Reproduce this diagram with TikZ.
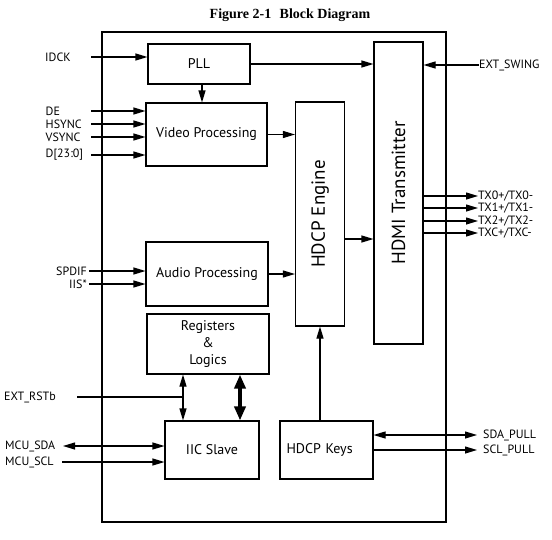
\documentclass[tikz,border=0pt]{standalone}
\usepackage{fontspec}
\setmainfont{PT Sans}
\newfontfamily\titlefont{Liberation Serif}
\usetikzlibrary{arrows.meta}
\tikzset{
    block/.style={draw,line width=1.1pt,inner sep=0pt,font=\fontsize{14}{17}\selectfont},
    tall/.style={block,font=\fontsize{19}{21}\selectfont},
    sig/.style={inner sep=0pt,font=\fontsize{12}{14}\selectfont},
    wire/.style={line width=1.1pt},
    arr/.style={wire,-{Triangle[length=12pt,width=7pt]}},
    darr/.style={wire,{Triangle[length=12pt,width=7pt]}-{Triangle[length=12pt,width=7pt]}},
    bus/.style={line width=4pt,{Triangle[length=14pt,width=11pt]}-{Triangle[length=14pt,width=11pt]}}
}
\begin{document}
\begin{tikzpicture}[x=1pt,y=-1pt]
    \useasboundingbox (0,0) rectangle (552,539);
    \node[font=\titlefont\bfseries\fontsize{14}{16}\selectfont] (title) at (290,15) {Figure 2-1\hspace{0.6em}Block Diagram};
    \draw[wire] (102,32) rectangle (446,522);

    \node[block,minimum width=102pt,minimum height=40pt] (pll) at (199,64) {PLL};
    \node[block,minimum width=121pt,minimum height=63pt] (vid) at (206.5,134.5) {Video Processing};
    \node[block,minimum width=122pt,minimum height=64pt] (aud) at (207,274) {Audio Processing};
    \node[block,minimum width=122pt,minimum height=60pt,align=center] (regs) at (208,344) {Registers\\\&\\Logics};
    \node[block,minimum width=94pt,minimum height=58pt] (iic) at (212,450) {IIC Slave};
    \node[block,minimum width=93pt,minimum height=58pt,text width=80pt,align=left] (keys) at (326.5,450) {HDCP Keys};
    \node[tall,minimum width=49pt,minimum height=224pt] (eng) at (320,214) {\rotatebox{90}{HDCP Engine}};
    \node[tall,minimum width=49pt,minimum height=302pt] (hdmi) at (398.5,193) {\rotatebox{90}{HDMI Transmitter}};

    \node[sig,anchor=west] (idck) at (45,57) {IDCK};
    \coordinate (idckin) at (91,57);
    \draw[arr] (idckin) -- (idckin -| pll.west);
    \draw[arr] (pll) -- (pll -| hdmi.west);
    \coordinate (pllout) at ([xshift=3pt]pll.south);
    \draw[arr] (pllout) -- (pllout |- vid.north);

    \foreach \y/\name/\txt in {111/de/DE,124/hs/HSYNC,137/vs/VSYNC,155/dat/D[23:0]}{
        \node[sig,anchor=west] (\name) at (45.5,\y) {\txt};
        \coordinate (\name in) at (91,\y);
        \draw[arr] (\name in) -- (\name in -| vid.west);
    }
    \node[sig,anchor=east] (spdif) at (87,271) {SPDIF};
    \node[sig,anchor=east] (iis) at (87,284) {IIS*};
    \draw[arr] ([xshift=2pt]spdif.east) -- (spdif.east -| aud.west);
    \draw[arr] ([xshift=2pt]iis.east) -- (iis.east -| aud.west);

    \draw[arr] (vid.east) -- (vid.east -| eng.west);
    \draw[arr] (aud.east) -- (aud.east -| eng.west);
    \coordinate (engout) at ([yshift=-25pt]eng.east);
    \draw[arr] (engout) -- (engout -| hdmi.west);

    \node[sig,anchor=west] (swing) at (479,65) {EXT\_SWING};
    \draw[arr] (swing.west) -- (swing.west -| hdmi.east);
    \foreach \y/\ch in {196/0,208/1,221/2,233/C}{
        \node[sig,anchor=west] (tx\ch) at (478,\y) {TX\ch+/TX\ch-};
        \draw[arr] (tx\ch.west -| hdmi.east) -- (tx\ch.west);
    }

    \coordinate (ctl) at (183,0);
    \coordinate (busx) at (240,0);
    \draw[darr] (regs.south -| ctl) -- (iic.north -| ctl);
    \draw[bus] (regs.south -| busx) -- (iic.north -| busx);
    \node[sig,anchor=west] (rst) at (4,397) {EXT\_RSTb};
    \coordinate (rstin) at (77,397);
    \draw[wire] (rstin) -- (rstin -| ctl);

    \node[sig,anchor=west] (mcusda) at (5,446) {MCU\_SDA};
    \node[sig,anchor=west] (mcuscl) at (5,462) {MCU\_SCL};
    \coordinate (sdain) at (63,446);
    \coordinate (sclin) at (62,462);
    \draw[darr] (sdain) -- (sdain -| iic.west);
    \draw[arr] (sclin) -- (sclin -| iic.west);

    \draw[arr] (eng.south |- keys.north) -- (eng.south);
    \node[sig,anchor=west] (sdapull) at (483,435) {SDA\_PULL};
    \node[sig,anchor=west] (sclpull) at (483,450) {SCL\_PULL};
    \coordinate (sdaout) at (477,435);
    \coordinate (sclout) at (477,450);
    \draw[darr] (sdaout -| keys.east) -- (sdaout);
    \draw[arr] (sclout -| keys.east) -- (sclout);
\end{tikzpicture}
\end{document}
